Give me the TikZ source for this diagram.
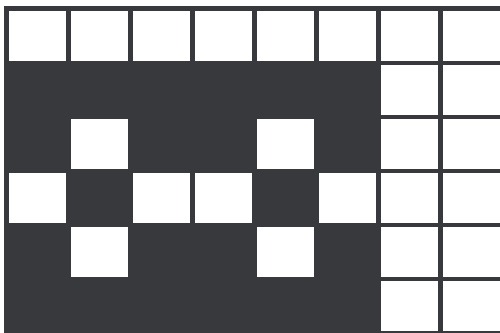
\documentclass[tikz,border=0pt]{standalone}
\usepackage{tikz}

\definecolor{weave}{RGB}{56,57,60}

\begin{document}
\begin{tikzpicture}[x=0.02cm, y=-0.02cm, cell/.style={fill=white}]
  \useasboundingbox (0,0) rectangle (500,333);
  \fill[weave] (4,6) rectangle (500,333);

  % top row of open cells
  \foreach \c in {0,...,7} {
    \fill[cell] ({9+62*\c}, 11) rectangle ++(57, 50);
  }

  % two open columns on the right
  \foreach \r in {1,...,5} {
    \foreach \c in {6,7} {
      \fill[cell] ({9+62*\c}, {11+54*\r}) rectangle ++(57, 50);
    }
  }

  % open cells inside the dark block
  \foreach \c/\r in {1/2, 4/2, 0/3, 2/3, 3/3, 5/3, 1/4, 4/4} {
    \fill[cell] ({9+62*\c}, {11+54*\r}) rectangle ++(57, 50);
  }
\end{tikzpicture}
\end{document}
